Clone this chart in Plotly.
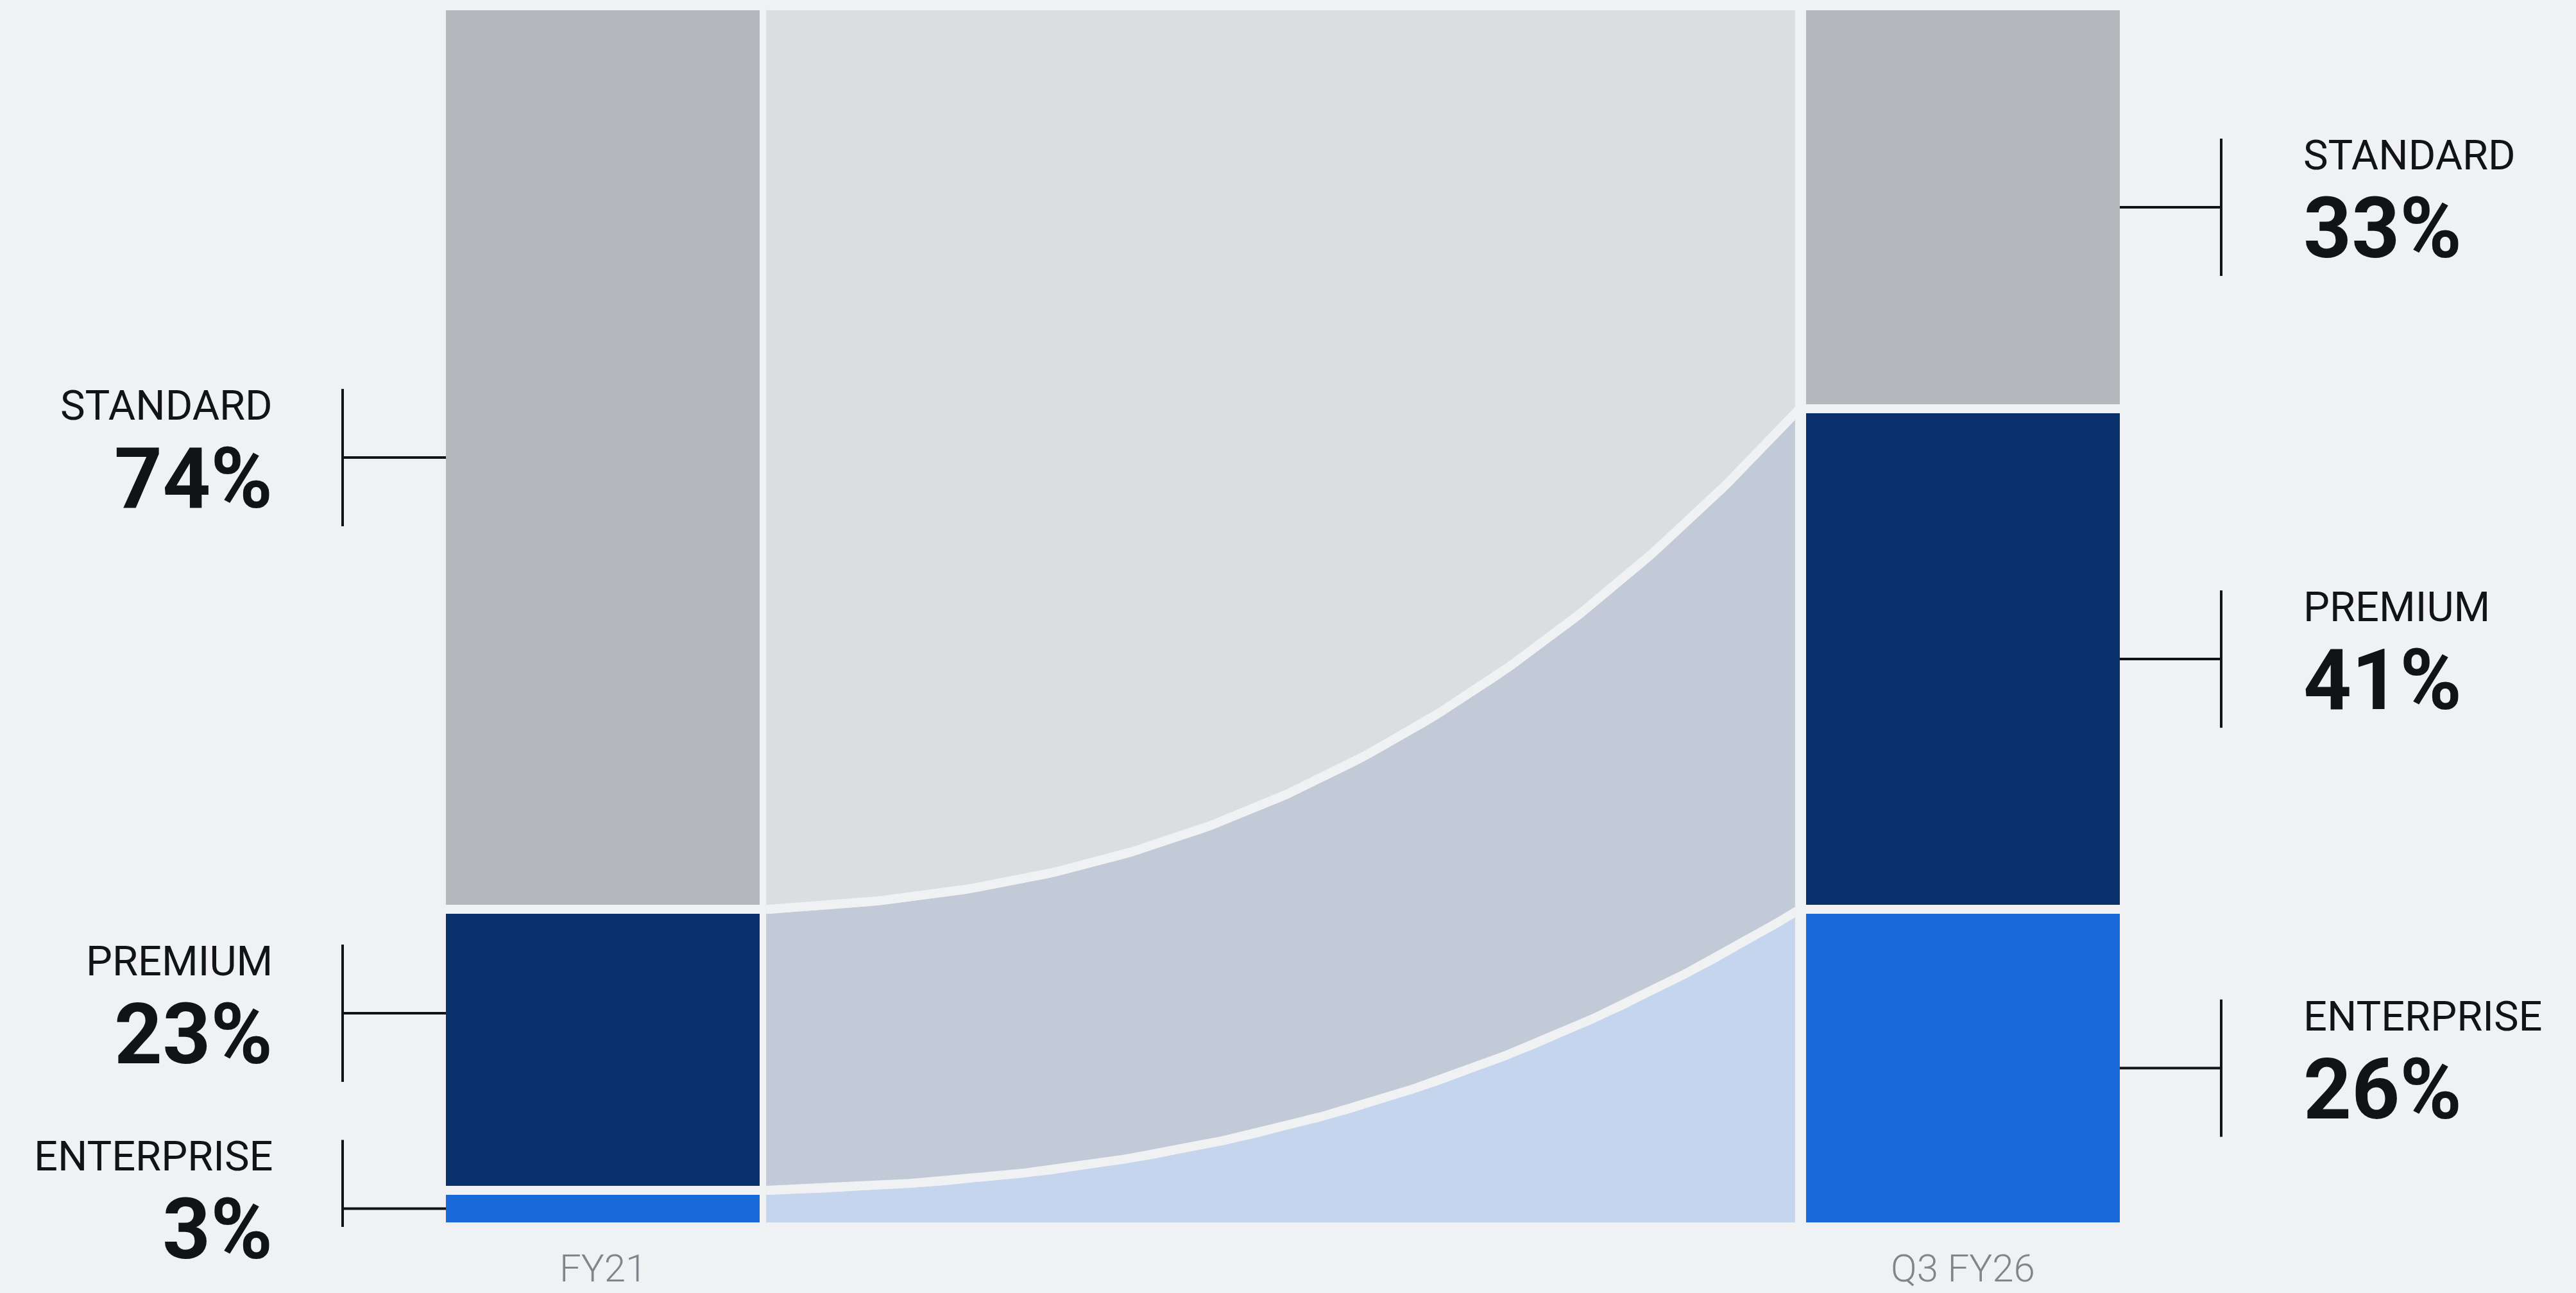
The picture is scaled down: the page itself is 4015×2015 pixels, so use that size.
import numpy as np
import plotly.graph_objects as go

# ---------------- data ----------------
periods = ["FY21", "Q3 FY26"]
tiers = ["STANDARD", "PREMIUM", "ENTERPRISE"]          # top -> bottom in the stack
fy21_share = [74, 23, 3]                                 # %
q3fy26_share = [33, 41, 26]                              # %

# ---------------- style ----------------
W, H = 4015, 2015
BG = "#F0F1F3"
INK = "#121315"
bar_colors = {"STANDARD": "#B7B8BD", "PREMIUM": "#09306B", "ENTERPRISE": "#1A69DB"}
flow_colors = {"STANDARD": "#DCDDDF", "PREMIUM": "#C1CAD6", "ENTERPRISE": "#C5D5EE"}
FONT = "Roboto"

PX0 = 939.5          # pixel of x = 0 (first period)
PXU = 2120.0         # pixels per x unit
Y0_PX, Y100_PX = 1912.0, 9.0   # pixel rows of y = 0 and y = 100
PYU = (Y0_PX - Y100_PX) / 100.0
GAP = 14             # px gap between blocks (drawn as background-coloured stroke)
BAR_W = (489 + GAP) / PXU

xrange_ = [-PX0 / PXU, (W - PX0) / PXU]
ydomain = [(H - Y0_PX) / H, (H - Y100_PX) / H]

shares = {periods[0]: dict(zip(tiers, fy21_share)),
          periods[1]: dict(zip(tiers, q3fy26_share))}

# cumulative bounds, stacking from the bottom tier upward
bounds = {}
for p in periods:
    lo = 0.0
    b = {}
    for t in reversed(tiers):
        b[t] = (lo, lo + shares[p][t])
        lo += shares[p][t]
    bounds[p] = b

fig = go.Figure()

# ---------------- flows ----------------
fx0 = BAR_W / 2 + 0.0015
fx1 = 1 - BAR_W / 2 - 0.0015
tt = np.linspace(0, 1, 160)
shape_f = 0.12 * tt + 0.88 * tt ** 2.4
xs = fx0 + (fx1 - fx0) * tt


def curve(a, b):
    return a + (b - a) * shape_f


for t in reversed(tiers):
    (la, ua) = bounds[periods[0]][t]
    (lb, ub) = bounds[periods[1]][t]
    low = curve(la, lb)
    up = curve(ua, ub)
    px = np.concatenate([xs, xs[::-1]])
    py = np.concatenate([low, up[::-1]])
    fig.add_trace(go.Scatter(
        x=px, y=py, mode="lines", fill="toself", fillcolor=flow_colors[t],
        line=dict(color=BG, width=GAP), hoverinfo="skip", showlegend=False))

# ---------------- bars ----------------
for t in reversed(tiers):
    fig.add_trace(go.Bar(
        x=[0, 1],
        y=[shares[p][t] for p in periods],
        base=[bounds[p][t][0] for p in periods],
        width=BAR_W,
        marker=dict(color=bar_colors[t], line=dict(color=BG, width=GAP)),
        hoverinfo="skip", showlegend=False))

# ---------------- labels with brackets ----------------
MIN_SEP = 16.0          # minimum spacing of label centres (y units)
HALF_BR = 107 / PYU     # half height of the bracket
edge_vis = BAR_W / 2 - (GAP / 2) / PXU
side = {
    periods[0]: dict(text_x=(427 - PX0) / PXU, br_x=(534 - PX0) / PXU,
                     bar_x=0 - edge_vis, anchor="right"),
    periods[1]: dict(text_x=(3588 - PX0) / PXU, br_x=(3462 - PX0) / PXU,
                     bar_x=1 + edge_vis, anchor="left"),
}

annotations = []
shapes = []
for p in periods:
    centres = {}
    prev = None
    for t in reversed(tiers):
        lo, hi = bounds[p][t]
        c = (lo + hi) / 2
        if prev is not None and c - prev < MIN_SEP:
            c = prev + MIN_SEP
        centres[t] = c
        prev = c
    s = side[p]
    for t in tiers:
        c = centres[t]
        shapes.append(dict(type="line", xref="x", yref="y", x0=s["br_x"], x1=s["br_x"],
                           y0=c - HALF_BR, y1=c + HALF_BR,
                           line=dict(color=INK, width=4)))
        shapes.append(dict(type="line", xref="x", yref="y", x0=s["br_x"], x1=s["bar_x"],
                           y0=c, y1=c, line=dict(color=INK, width=4)))
        annotations.append(dict(x=s["text_x"], y=c, xref="x", yref="y", text=t,
                                showarrow=False, xanchor=s["anchor"], yanchor="middle",
                                yshift=81, font=dict(family=FONT, size=65, color=INK)))
        annotations.append(dict(x=s["text_x"], y=c, xref="x", yref="y",
                                text=f"{shares[p][t]}%",
                                showarrow=False, xanchor=s["anchor"], yanchor="middle",
                                yshift=-33,
                                font=dict(family=FONT, size=131, color=INK, weight=700)))

# period labels
for i, p in enumerate(periods):
    annotations.append(dict(x=i, y=0, xref="x", yref="y", text=p, showarrow=False,
                            xanchor="center", yanchor="middle", yshift=-64,
                            font=dict(family=FONT, size=60, color="#80858C", weight=300)))

fig.update_layout(
    width=W, height=H, autosize=False,
    margin=dict(l=0, r=0, t=0, b=0, pad=0),
    paper_bgcolor=BG, plot_bgcolor=BG,
    barmode="overlay", bargap=0,
    xaxis=dict(range=xrange_, domain=[0, 1], visible=False, fixedrange=True),
    yaxis=dict(range=[0, 100], domain=ydomain, visible=False, fixedrange=True),
    annotations=annotations, shapes=shapes,
    showlegend=False,
)

fig.write_html("out.html", config={"displayModeBar": False})
